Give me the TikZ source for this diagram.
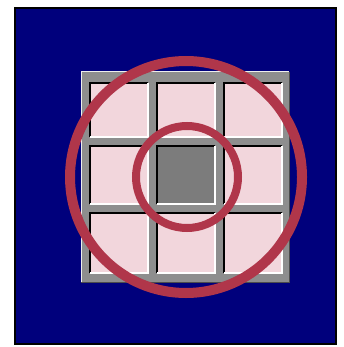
\documentclass[tikz,border=0pt]{standalone}
\definecolor{navy}{RGB}{0,0,124}
\definecolor{cellpink}{RGB}{242,214,220}
\definecolor{barg}{RGB}{142,142,142}
\definecolor{centerg}{RGB}{124,124,124}
\definecolor{ringred}{RGB}{176,54,74}
\tikzset{
  cellbox/.style={fill=cellpink},
  ring/.style={draw=ringred},
}
\newcommand{\gridcell}[5]{% x1 y1 x2 y2 fill
  \fill[#5] (#1,#2) rectangle (#3,#4);
  \draw[black,line width=1.3pt] (#1,#4) -- (#1,#2) -- (#3,#2);
  \draw[white,line width=1.3pt] (#3,#2) -- (#3,#4) -- (#1,#4);
}
\begin{document}
\begin{tikzpicture}[x=1pt,y=-1pt]
\useasboundingbox (0,0) rectangle (343,347);
\fill[white] (0,0) rectangle (343,347);
% background panel
\draw[fill=navy,draw=black,line width=2.6pt] (15,8) rectangle (336,344);
% grid frame
\fill[barg] (81,72) rectangle (289,282);
\draw[black!70,line width=1pt] (81,282) -- (289,282) -- (289,72);
\draw[white!85!barg,line width=1pt] (81,282) -- (81,72) -- (289,72);
% cells
\gridcell{90}{83}{148}{137}{cellpink}
\gridcell{157}{83}{215}{137}{cellpink}
\gridcell{224}{83}{282}{137}{cellpink}
\gridcell{90}{146}{148}{204}{cellpink}
\gridcell{157}{146}{215}{204}{centerg}
\gridcell{224}{146}{282}{204}{cellpink}
\gridcell{90}{213}{148}{273}{cellpink}
\gridcell{157}{213}{215}{273}{cellpink}
\gridcell{224}{213}{282}{273}{cellpink}
% rings
\node[ring,circle,line width=10pt,minimum size=232pt,inner sep=0pt] (outer) at (186,177) {};
\node[ring,circle,line width=8pt,minimum size=102pt,inner sep=0pt] (inner) at (187,177) {};
\end{tikzpicture}
\end{document}
